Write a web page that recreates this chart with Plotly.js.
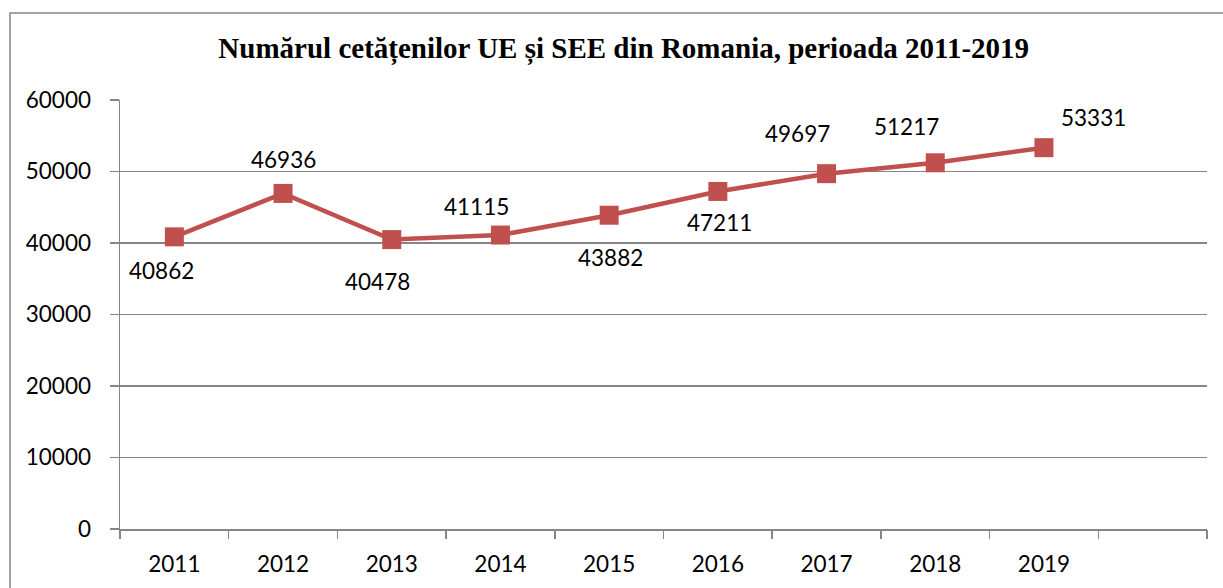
<!DOCTYPE html>
<html>
<head>
<meta charset="utf-8">
<script src="https://cdn.plot.ly/plotly-3.0.1.min.js"></script>
<style>html,body{margin:0;padding:0;background:#fff;}#chart{width:1223px;height:588px;}</style>
</head>
<body>
<div id="chart"></div>
<script>
const years = ["2011","2012","2013","2014","2015","2016","2017","2018","2019"];
const citizens = [40862, 46936, 40478, 41115, 43882, 47211, 49697, 51217, 53331];
const titleText = "Numărul cetățenilor UE și SEE din Romania, perioada 2011-2019";

// label offsets (px) relative to each marker
const labelDx = [-13, 0, -14, -24, 1, 2, -29, -29, 50];
const labelDy = [-34, 34, -42, 29, -42, -31, 40, 36, 30];

const gridCol = "#868686";
const lineCol = "#C0504D";
const font = "Lato, 'Open Sans', sans-serif";
const fs = 22.5;

const nSlots = years.length + 1;
const boundaries = [];
for (let i = 0; i <= nSlots; i++) boundaries.push(i - 0.5);

const traces = [
  {
    x: years.map((_, i) => i), y: citizens, type: "scatter", mode: "lines+markers",
    line: {color: lineCol, width: 4.5},
    marker: {symbol: "square", size: 19, color: lineCol},
    hoverinfo: "skip", showlegend: false
  },
  {
    x: boundaries, y: boundaries.map(() => 0), xaxis: "x2", type: "scatter", mode: "markers",
    marker: {opacity: 0, size: 1}, hoverinfo: "skip", showlegend: false
  }
];

const annotations = citizens.map((v, i) => ({
  x: i, y: v, xref: "x", yref: "y", text: String(v), showarrow: false,
  xshift: labelDx[i], yshift: labelDy[i],
  font: {family: font, size: fs, color: "#000"}
}));

const layout = {
  width: 1223, height: 588,
  paper_bgcolor: "#fff", plot_bgcolor: "#fff",
  margin: {l: 120, r: 16, t: 100, b: 59},
  title: {
    text: "<b>" + titleText + "</b>",
    font: {family: "'Liberation Serif', 'Times New Roman', serif", size: 29, color: "#000"},
    x: 0.51, xref: "container", xanchor: "center",
    y: 1 - 48 / 588, yref: "container", yanchor: "middle"
  },
  xaxis: {
    range: [-0.5, nSlots - 0.5], tickmode: "array",
    tickvals: years.map((_, i) => i), ticktext: years,
    ticks: "", showgrid: false, zeroline: false,
    showline: true, linecolor: gridCol, linewidth: 1.5,
    tickfont: {family: font, size: fs, color: "#000"},
    ticklabelstandoff: 14, fixedrange: true
  },
  xaxis2: {
    overlaying: "x", anchor: "y", side: "bottom",
    range: [-0.5, nSlots - 0.5], tickmode: "array", tickvals: boundaries,
    ticks: "outside", ticklen: 9, tickwidth: 1.5, tickcolor: gridCol,
    showticklabels: false, showgrid: false, zeroline: false, showline: false
  },
  yaxis: {
    range: [0, 60000], dtick: 10000, tick0: 0, tickformat: "d",
    showgrid: true, gridcolor: gridCol, gridwidth: 1.5,
    zeroline: false, showline: true, linecolor: gridCol, linewidth: 1.5,
    ticks: "outside", ticklen: 9, tickwidth: 1.5, tickcolor: gridCol,
    tickfont: {family: font, size: fs, color: "#000"},
    ticklabelstandoff: 14, fixedrange: true
  },
  shapes: [{
    type: "rect", xref: "paper", yref: "paper",
    x0: (10 - 120) / 1087, x1: 1.2, y0: -0.3, y1: (588 - 13 - 59) / 429,
    line: {color: gridCol, width: 1.5}, fillcolor: "rgba(0,0,0,0)", layer: "below"
  }],
  annotations: annotations
};

Plotly.newPlot("chart", traces, layout, {displayModeBar: false, staticPlot: true});
</script>
</body>
</html>
